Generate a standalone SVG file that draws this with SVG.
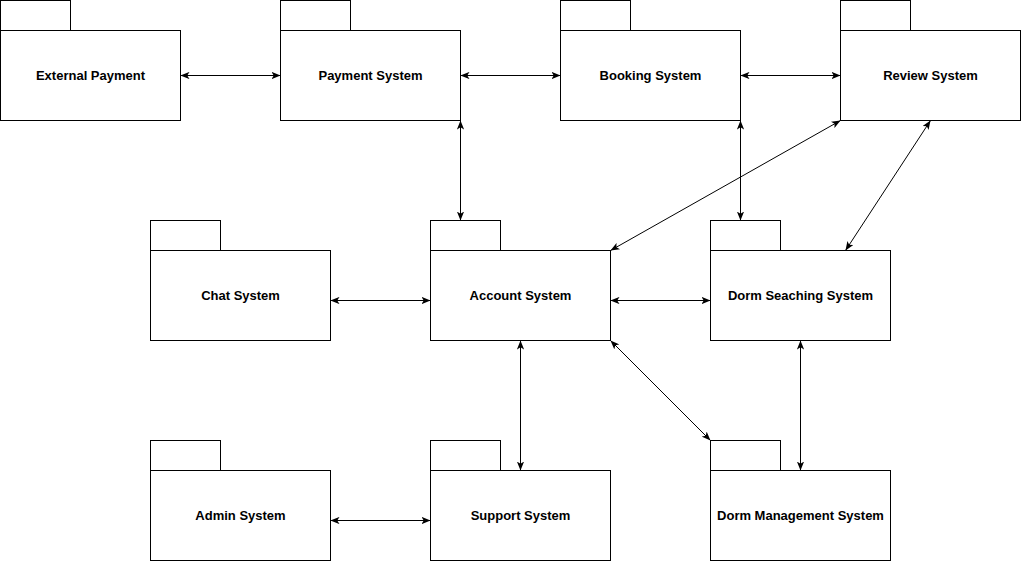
<svg xmlns="http://www.w3.org/2000/svg" width="1021" height="561" viewBox="0 0 1021 561">
<style>
.pk rect{fill:#fff;stroke:#000;stroke-width:1}
.pk text{font-family:"Liberation Sans",Arial,sans-serif;font-size:13px;font-weight:bold;fill:#000;text-anchor:middle;dominant-baseline:central}
.cn line{stroke:#000;stroke-width:1;marker-start:url(#a);marker-end:url(#a)}
</style>
<defs>
<marker id="a" viewBox="0 0 10 8" refX="10" refY="4" markerWidth="9" markerHeight="7.5" markerUnits="userSpaceOnUse" orient="auto-start-reverse">
<path d="M0,0 L10,4 L0,8 L2.5,4 Z" fill="#000"/>
</marker>
</defs>
<rect width="1021" height="561" fill="#fff"/>
<g transform="translate(0.5,0.5)">
<g id="external-payment" class="pk"><rect x="0" y="0" width="70" height="30"/><rect x="0" y="30" width="180" height="90"/><text x="90" y="75">External Payment</text></g>
<g id="payment-system" class="pk"><rect x="280" y="0" width="70" height="30"/><rect x="280" y="30" width="180" height="90"/><text x="370" y="75">Payment System</text></g>
<g id="booking-system" class="pk"><rect x="560" y="0" width="70" height="30"/><rect x="560" y="30" width="180" height="90"/><text x="650" y="75">Booking System</text></g>
<g id="review-system" class="pk"><rect x="840" y="0" width="70" height="30"/><rect x="840" y="30" width="180" height="90"/><text x="930" y="75">Review System</text></g>
<g id="chat-system" class="pk"><rect x="150" y="220" width="70" height="30"/><rect x="150" y="250" width="180" height="90"/><text x="240" y="295">Chat System</text></g>
<g id="account-system" class="pk"><rect x="430" y="220" width="70" height="30"/><rect x="430" y="250" width="180" height="90"/><text x="520" y="295">Account System</text></g>
<g id="dorm-seaching-system" class="pk"><rect x="710" y="220" width="70" height="30"/><rect x="710" y="250" width="180" height="90"/><text x="800" y="295">Dorm Seaching System</text></g>
<g id="admin-system" class="pk"><rect x="150" y="440" width="70" height="30"/><rect x="150" y="470" width="180" height="90"/><text x="240" y="515">Admin System</text></g>
<g id="support-system" class="pk"><rect x="430" y="440" width="70" height="30"/><rect x="430" y="470" width="180" height="90"/><text x="520" y="515">Support System</text></g>
<g id="dorm-management-system" class="pk"><rect x="710" y="440" width="70" height="30"/><rect x="710" y="470" width="180" height="90"/><text x="800" y="515">Dorm Management System</text></g>
<g id="connectors" class="cn">
<line x1="180" y1="75" x2="280" y2="75"/>
<line x1="460" y1="75" x2="560" y2="75"/>
<line x1="740" y1="75" x2="840" y2="75"/>
<line x1="460" y1="120" x2="460" y2="220"/>
<line x1="740" y1="120" x2="740" y2="220"/>
<line x1="840" y1="120" x2="610" y2="250"/>
<line x1="930" y1="120" x2="845" y2="250"/>
<line x1="330" y1="300" x2="430" y2="300"/>
<line x1="610" y1="300" x2="710" y2="300"/>
<line x1="520" y1="340" x2="520" y2="470"/>
<line x1="610" y1="340" x2="710" y2="440"/>
<line x1="800" y1="340" x2="800" y2="470"/>
<line x1="330" y1="520" x2="430" y2="520"/>
</g>
</g>
</svg>
